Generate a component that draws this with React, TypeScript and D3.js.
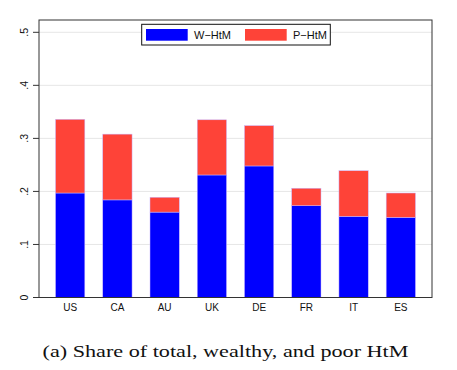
import * as d3 from 'd3';
import React, { useEffect, useRef } from 'react';

const countries = ['US', 'CA', 'AU', 'UK', 'DE', 'FR', 'IT', 'ES'];
const wealthyHtM = [0.197, 0.184, 0.161, 0.231, 0.248, 0.173, 0.153, 0.151];
const poorHtM = [0.139, 0.124, 0.028, 0.104, 0.076, 0.033, 0.086, 0.046];
const yTicks = [0, 0.1, 0.2, 0.3, 0.4, 0.5];
const seriesNames = ['W\u2212HtM', 'P\u2212HtM'];
const seriesColors = ['#0000ff', '#fe4338'];

const width = 457;
const height = 370;
const frame = { left: 39, right: 432, top: 20, bottom: 297.5 };

const App: React.FC = () => {
  const svgRef = useRef<SVGSVGElement | null>(null);

  useEffect(() => {
    if (!svgRef.current) return;
    const svg = d3.select(svgRef.current);
    svg.selectAll('*').remove();

    const x = d3
      .scaleBand()
      .domain(countries)
      .range([frame.left, frame.right])
      .paddingInner(0.38)
      .paddingOuter(0.35);

    const y = d3.scaleLinear().domain([0, 0.5]).range([frame.bottom, 32.3]);

    // grid lines
    svg
      .append('g')
      .selectAll('line')
      .data(yTicks.filter((t) => t > 0))
      .enter()
      .append('line')
      .attr('x1', frame.left)
      .attr('x2', frame.right)
      .attr('y1', (d) => y(d))
      .attr('y2', (d) => y(d))
      .attr('stroke', '#e6e6e6')
      .attr('stroke-width', 1);

    // stacked bars
    const rows = countries.map((c, i) => ({ country: c, w: wealthyHtM[i], p: poorHtM[i] }));
    const stack = d3.stack<{ country: string; w: number; p: number }>().keys(['w', 'p'])(rows);

    svg
      .append('g')
      .selectAll('g')
      .data(stack)
      .enter()
      .append('g')
      .attr('fill', (_d, i) => seriesColors[i])
      .selectAll('rect')
      .data((d) => d)
      .enter()
      .append('rect')
      .attr('x', (d) => x(d.data.country)!)
      .attr('width', x.bandwidth())
      .attr('y', (d) => y(d[1]))
      .attr('height', (d) => y(d[0]) - y(d[1]))
      .attr('stroke', '#c9b8ff')
      .attr('stroke-width', 0.5);

    // frame
    svg
      .append('rect')
      .attr('x', frame.left)
      .attr('y', frame.top)
      .attr('width', frame.right - frame.left)
      .attr('height', frame.bottom - frame.top)
      .attr('fill', 'none')
      .attr('stroke', '#333')
      .attr('stroke-width', 1);

    // y axis ticks and labels
    const yAxis = svg.append('g');
    yTicks.forEach((t) => {
      yAxis
        .append('line')
        .attr('x1', frame.left - 6)
        .attr('x2', frame.left)
        .attr('y1', y(t))
        .attr('y2', y(t))
        .attr('stroke', '#333');
      yAxis
        .append('text')
        .attr('transform', `translate(28,${y(t)}) rotate(-90)`)
        .attr('text-anchor', 'middle')
        .attr('font-family', 'Liberation Sans, Arial, sans-serif')
        .attr('font-size', 10.5)
        .attr('fill', '#111')
        .text(t === 0 ? '0' : d3.format('.1f')(t).replace(/^0/, ''));
    });

    // x labels
    svg
      .append('g')
      .selectAll('text')
      .data(countries)
      .enter()
      .append('text')
      .attr('x', (d) => x(d)! + x.bandwidth() / 2)
      .attr('y', 310.5)
      .attr('text-anchor', 'middle')
      .attr('font-family', 'Liberation Sans, Arial, sans-serif')
      .attr('font-size', 10)
      .attr('fill', '#111')
      .text((d) => d);

    // legend
    const legend = svg.append('g');
    legend
      .append('rect')
      .attr('x', 141.7)
      .attr('y', 24.3)
      .attr('width', 188.6)
      .attr('height', 20.7)
      .attr('fill', '#fff')
      .attr('stroke', '#111')
      .attr('stroke-width', 1);
    const lx = [146, 245];
    seriesNames.forEach((name, i) => {
      legend
        .append('rect')
        .attr('x', lx[i])
        .attr('y', 29)
        .attr('width', 41.7)
        .attr('height', 11.7)
        .attr('fill', seriesColors[i]);
      legend
        .append('text')
        .attr('x', lx[i] + 48)
        .attr('y', 39)
        .attr('font-family', 'Liberation Sans, Arial, sans-serif')
        .attr('font-size', 11)
        .attr('fill', '#111')
        .text(name);
    });

    // caption
    svg
      .append('text')
      .attr('x', 225.5)
      .attr('y', 357)
      .attr('text-anchor', 'middle')
      .attr('font-family', 'Liberation Serif, Times New Roman, serif')
      .attr('font-size', 17.5)
      .attr('textLength', 366)
      .attr('lengthAdjust', 'spacingAndGlyphs')
      .attr('fill', '#111')
      .text('(a) Share of total, wealthy, and poor HtM');
  }, []);

  return (
    <div style={{ position: 'absolute', left: 0, top: 0 }}>
      <svg ref={svgRef} width={width} height={height} style={{ display: 'block', background: '#fff' }} />
    </div>
  );
};

export default App;
